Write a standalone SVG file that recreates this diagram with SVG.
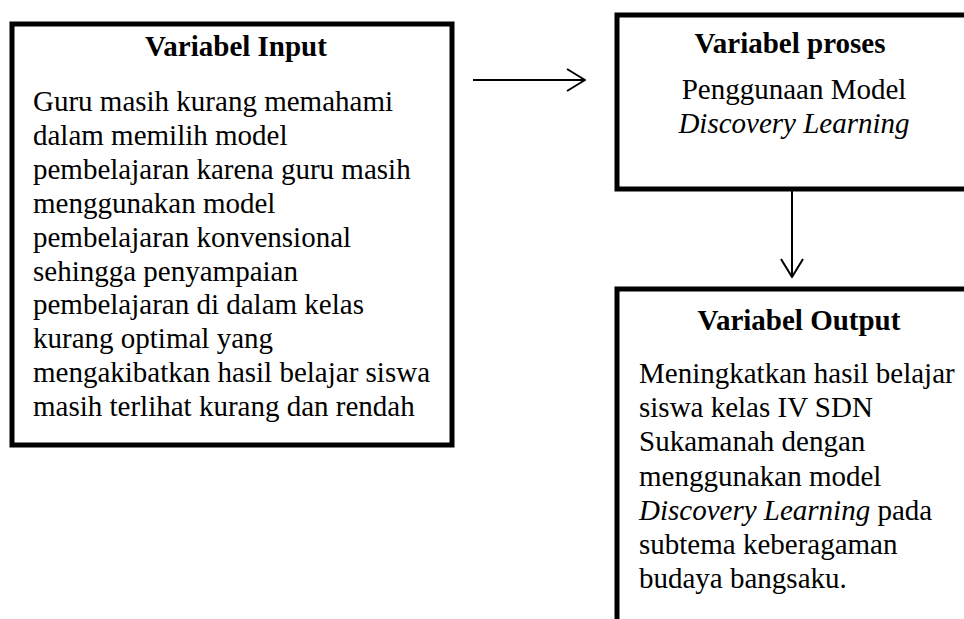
<svg xmlns="http://www.w3.org/2000/svg" width="964" height="619" viewBox="0 0 964 619">
<style>
.box{fill:#fff;stroke:#000;stroke-width:5}
.t{font-family:"Liberation Serif","Times New Roman",serif;font-size:29px;fill:#000}
.h{font-weight:bold;text-anchor:middle}
.c{text-anchor:middle}
.i{font-style:italic}
.ln{stroke:#000;stroke-width:2;fill:none}
</style>
<defs>
<marker id="arr" viewBox="0 0 20 24" refX="19" refY="12" markerWidth="20" markerHeight="24" markerUnits="userSpaceOnUse" orient="auto">
<path d="M1,1 L19,12 L1,23" fill="none" stroke="#000" stroke-width="2"/>
</marker>
</defs>
<rect width="964" height="619" fill="#fff"/>
<g id="input">
<rect class="box" x="12" y="24" width="440" height="421"/>
<text class="t h" x="236" y="56">Variabel Input</text>
<text class="t" x="33" y="111">Guru masih kurang memahami</text>
<text class="t" x="33" y="145">dalam memilih model</text>
<text class="t" x="33" y="179">pembelajaran karena guru masih</text>
<text class="t" x="33" y="213">menggunakan model</text>
<text class="t" x="33" y="247">pembelajaran konvensional</text>
<text class="t" x="33" y="281">sehingga penyampaian</text>
<text class="t" x="33" y="314">pembelajaran di dalam kelas</text>
<text class="t" x="33" y="348">kurang optimal yang</text>
<text class="t" x="33" y="382">mengakibatkan hasil belajar siswa</text>
<text class="t" x="33" y="416">masih terlihat kurang dan rendah</text>
</g>
<g id="proses">
<rect class="box" x="617" y="15" width="360" height="174"/>
<text class="t h" x="790" y="53">Variabel proses</text>
<text class="t c" x="794" y="99">Penggunaan Model</text>
<text class="t c i" x="794" y="133">Discovery Learning</text>
</g>
<g id="output">
<rect class="box" x="617" y="289" width="360" height="340"/>
<text class="t h" x="799" y="330">Variabel Output</text>
<text class="t" x="639" y="383">Meningkatkan hasil belajar</text>
<text class="t" x="639" y="417">siswa kelas IV SDN</text>
<text class="t" x="639" y="451">Sukamanah dengan</text>
<text class="t" x="639" y="486">menggunakan model</text>
<text class="t" x="639" y="520"><tspan class="i">Discovery Learning</tspan> pada</text>
<text class="t" x="639" y="554">subtema keberagaman</text>
<text class="t" x="639" y="588">budaya bangsaku.</text>
</g>
<g id="connectors">
<line class="ln" x1="473" y1="80" x2="585" y2="80" marker-end="url(#arr)"/>
<line class="ln" x1="792" y1="191" x2="792" y2="277" marker-end="url(#arr)"/>
</g>
</svg>
